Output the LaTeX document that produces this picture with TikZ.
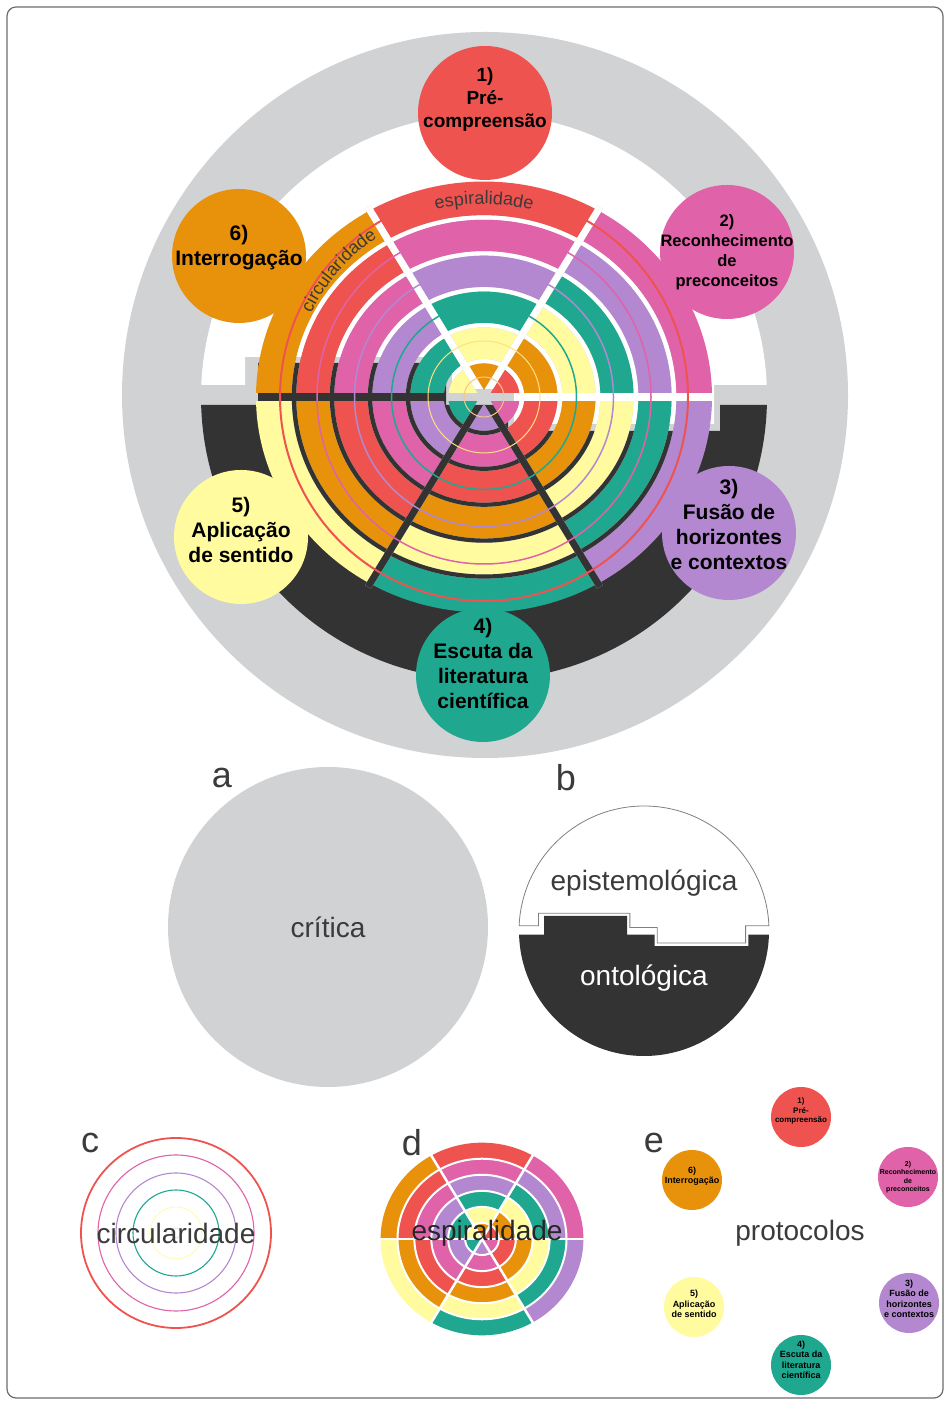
\documentclass[tikz,border=0pt]{standalone}
\usepackage{fontspec}
\setmainfont{Liberation Sans}
\usetikzlibrary{decorations.text}
\definecolor{cred}{HTML}{EE5350}
\definecolor{cmag}{HTML}{E062A9}
\definecolor{cpur}{HTML}{B388D0}
\definecolor{cteal}{HTML}{1FA88F}
\definecolor{cyel}{HTML}{FFFB9E}
\definecolor{corg}{HTML}{E8920C}
\definecolor{cdark}{HTML}{333333}
\definecolor{cgray}{HTML}{D1D2D4}
\definecolor{framec}{HTML}{6D6D6D}
\definecolor{txtc}{HTML}{3B3B3B}
\definecolor{ringtxt}{HTML}{3E3838}
\colorlet{c0}{cred}\colorlet{c1}{cmag}\colorlet{c2}{cpur}
\colorlet{c3}{cteal}\colorlet{c4}{cyel}\colorlet{c5}{corg}
\def\whiteshape{(-282.75,12) -- (-239,12) -- (-239,40) -- (-32,40) -- (-32,8) -- (30,8) -- (30,-27) -- (230,-27) -- (230,12) -- (282.75,12) arc[start angle=2.43, end angle=177.57, radius=283] -- cycle}
\def\darkshape{(-282.89,-8) -- (-226,-8) -- (-226,34) -- (-38,34) -- (-38,-8) -- (24,-8) -- (24,-34) -- (236,-34) -- (236,-8) -- (282.89,-8) arc[start angle=-1.62, end angle=-178.38, radius=283] -- cycle}
\newcommand\mainbg{\fill[cgray] (1,2) circle (363); \fill[white] \whiteshape; \fill[cdark] \darkshape;}
\newcommand\drawrings[1]{%
\foreach \k in {0,...,5}{%
  \pgfmathsetmacro\aone{60-60*\k}%
  \pgfmathsetmacro\atwo{120-60*\k}%
  \foreach \i in {0,...,5}{%
    \pgfmathtruncatemacro\ci{mod(\k+5-\i,6)}%
    \pgfmathsetmacro\rin{\i*#1}%
    \pgfmathsetmacro\rout{(\i+1)*#1}%
    \ifnum\i=0
      \fill[c\ci] (0,0) -- (\aone:\rout) arc[start angle=\aone, end angle=\atwo, radius=\rout] -- cycle;
    \else
      \fill[c\ci] (\aone:\rin) arc[start angle=\aone, end angle=\atwo, radius=\rin] -- (\atwo:\rout) arc[start angle=\atwo, end angle=\aone, radius=\rout] -- cycle;
    \fi
  }}}
\newcommand\ringfont{\fontsize{18}{18}\selectfont}
\def\ys{0.945}
\tikzset{
  bigc/.style={circle, minimum size=134pt, inner sep=0pt},
  smallc/.style={circle, minimum size=60pt, inner sep=0pt},
  ctxt/.style={align=center, text=black, font=\bfseries\fontsize{21}{25}\selectfont, inner sep=0pt},
  etxt/.style={align=center, text=black, font=\bfseries\fontsize{9}{10.5}\selectfont, inner sep=0pt},
  panellabel/.style={text=txtc, font=\fontsize{36}{36}\selectfont, inner sep=0pt},
  word/.style={text=txtc, font=\fontsize{28}{28}\selectfont, inner sep=0pt},
  thin/.style={line width=1.5pt}
}
\begin{document}
\begin{tikzpicture}[x=1pt,y=1pt]
\useasboundingbox (0,0) rectangle (950,1405);
\fill[white] (0,0) rectangle (950,1405);
\draw[framec, line width=1.2pt, rounded corners=9pt] (7,7) rectangle (943,1398);

% ---------------- main figure
\begin{scope}[shift={(484,1008)}]
  \mainbg
  \begin{scope}[yscale=\ys]
    \drawrings{38}
  \end{scope}
  \foreach \i in {1,...,5}{%
    \begin{scope}[yscale=\ys, even odd rule]
      \clip (0,0) circle ({38*\i+2.2}) (0,0) circle ({38*\i-2.2});
      \begin{scope}[yscale=1/\ys]\mainbg\end{scope}
    \end{scope}}
  \foreach \a in {0,60,...,300}{%
    \begin{scope}[yscale=\ys]
      \clip ({\a+90}:3.5) -- ++(\a:232) -- ++({\a-90}:7) -- ++({\a+180}:232) -- cycle;
      \begin{scope}[yscale=1/\ys]\mainbg\end{scope}
    \end{scope}}
  \draw[cred, line width=2pt] (0,0) circle (204);
  \draw[cmag, thin] (0,0) circle (167);
  \draw[cpur, thin] (0,0) circle (129.5);
  \draw[cteal, thin] (0,0) circle (92.5);
  \draw[cyel!80!orange, line width=1pt] (0,0) circle (56);
  \draw[corg!50, line width=1pt] (0,0) circle (20);
  \path[decorate, decoration={text along path, text align=center, text={|\color{ringtxt}\ringfont|circularidade}}] (168:192) arc[start angle=168, end angle=110, radius=192];
  \path[decorate, decoration={text along path, text align=center, text={|\color{ringtxt}\ringfont|espiralidade}}] (125:193) arc[start angle=125, end angle=55, radius=193];
  % protocol circles
  \node[bigc, fill=cred] (p1) at (1,284) {};
  \node[bigc, fill=cmag] (p2) at (243,145) {};
  \node[bigc, fill=cpur] (p3) at (245,-136) {};
  \node[bigc, fill=cteal] (p4) at (-1,-278) {};
  \node[bigc, fill=cyel] (p5) at (-243,-140) {};
  \node[bigc, fill=corg] (p6) at (-245,141) {};
  \node[ctxt, font=\bfseries\fontsize{19}{23}\selectfont, yshift=13] (t1) at (p1) {1)\\Pré-\\compreensão};
  \node[ctxt, font=\bfseries\fontsize{16.5}{20}\selectfont] (t2) at (p2) {2)\\Reconhecimento\\de\\preconceitos};
  \node[ctxt, yshift=8] (t3) at (p3) {3)\\Fusão de\\horizontes\\e contextos};
  \node[ctxt, yshift=11] (t4) at (p4) {4)\\Escuta da\\literatura\\científica};
  \node[ctxt, yshift=7] (t5) at (p5) {5)\\Aplicação\\de sentido};
  \node[ctxt, yshift=8] (t6) at (p6) {6)\\Interrogação};
\end{scope}

% ---------------- panel labels
\node[panellabel] (la) at (222,627) {a};
\node[panellabel] (lb) at (566,627) {b};
\node[panellabel] (lc) at (90,262) {c};
\node[panellabel] (ld) at (412,262) {d};
\node[panellabel] (le) at (654,262) {e};

% ---------------- panel a
\node[circle, fill=cgray, minimum size=320pt, inner sep=0pt] (pa) at (328,478) {};
\node[word] (wa) at (328,478) {crítica};

% ---------------- panel b
\begin{scope}[shift={(644,474)}, scale=0.4417]
  \filldraw[fill=white, draw=gray, line width=0.8pt] \whiteshape;
  \fill[cdark] \darkshape;
\end{scope}
\node[word] (wb1) at (644,522) {epistemológica};
\node[word, text=white] (wb2) at (644,427) {ontológica};

% ---------------- panel c
\begin{scope}[shift={(176,172)}]
  \draw[cred, line width=1.8pt] (0,0) circle (95);
  \draw[cmag, line width=1.1pt] (0,0) circle (78);
  \draw[cpur, line width=1.1pt] (0,0) circle (60);
  \draw[cteal, line width=1.1pt] (0,0) circle (43);
  \draw[cyel!70!white, line width=1pt] (0,0) circle (26);
  \draw[gray!25, line width=0.8pt] (0,0) circle (5);
\end{scope}
\node[word] (wc) at (176,172) {circularidade};

% ---------------- panel d
\begin{scope}[shift={(482,166)}, yscale=0.95]
  \drawrings{16.9}
  \foreach \i in {1,...,5}{\draw[white, line width=2pt] (0,0) circle ({16.9*\i});}
  \foreach \a in {0,60,...,300}{\draw[white, line width=2.5pt] (0,0) -- (\a:103);}
\end{scope}
\node[word, text=black!85] (wd) at (487,172) {espiralidade};

% ---------------- panel e
\node[smallc, fill=cred] (e1) at (801,288) {};
\node[smallc, fill=cmag] (e2) at (908,228) {};
\node[smallc, fill=cpur] (e3) at (909,102) {};
\node[smallc, fill=cteal] (e4) at (801,40) {};
\node[smallc, fill=cyel] (e5) at (694,98) {};
\node[smallc, fill=corg] (e6) at (692,225) {};
\node[etxt, font=\bfseries\fontsize{8}{9.5}\selectfont, yshift=6] (et1) at (e1) {1)\\Pré-\\compreensão};
\node[etxt, font=\bfseries\fontsize{7}{8.5}\selectfont] (et2) at (e2) {2)\\Reconhecimento\\de\\preconceitos};
\node[etxt, yshift=4] (et3) at (e3) {3)\\Fusão de\\horizontes\\e contextos};
\node[etxt, yshift=5] (et4) at (e4) {4)\\Escuta da\\literatura\\científica};
\node[etxt, yshift=3] (et5) at (e5) {5)\\Aplicação\\de sentido};
\node[etxt, yshift=4] (et6) at (e6) {6)\\Interrogação};
\node[word] (we) at (800,172) {protocolos};
\end{tikzpicture}
\end{document}
